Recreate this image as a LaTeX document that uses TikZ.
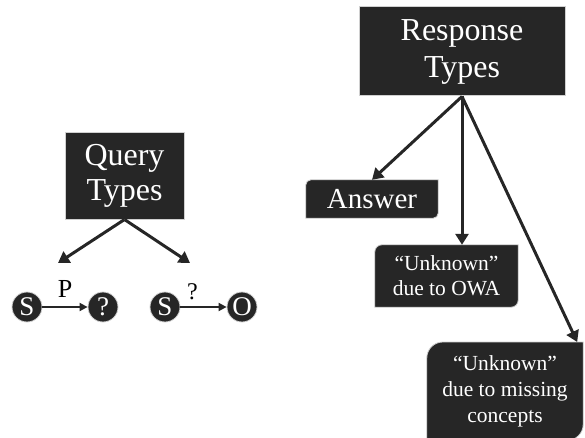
\documentclass[tikz,border=0pt]{standalone}
\usepackage{fontspec}
\setmainfont{Liberation Serif}
\usetikzlibrary{arrows.meta,calc,backgrounds}
\definecolor{boxfill}{HTML}{262626}
\definecolor{boxedge}{HTML}{D0D0D0}

% box with the top-left and bottom-right corners rounded
\newcommand\softbox[2]{%
  \filldraw[cornerbox]
    ($(#1.north west)+(0,#2)$)
      .. controls ($(#1.north west)+(0,0.45*#2)$) and ($(#1.north west)+(0.45*#2,0)$) ..
    ($(#1.north west)+(#2,0)$)
    -- (#1.north east) -- ($(#1.south east)+(0,-#2)$)
      .. controls ($(#1.south east)+(0,-0.45*#2)$) and ($(#1.south east)+(-0.45*#2,0)$) ..
    ($(#1.south east)+(-#2,0)$)
    -- (#1.south west) -- cycle;}

\begin{document}
\begin{tikzpicture}[x=1pt,y=-1pt,
  txt/.style={text=white, align=center, inner sep=0pt},
  sqbox/.style={txt, fill=boxfill, draw=boxedge, line width=1pt},
  cornerbox/.style={fill=boxfill, draw=boxedge, line width=0.8pt},
  dot/.style={circle, fill=boxfill, draw=boxedge, line width=0.8pt,
    minimum size=30pt, inner sep=0pt, text=white,
    font=\fontsize{27}{27}\selectfont},
  tree/.style={draw=boxfill, line width=3pt,
    -{Triangle[length=11pt,width=13pt]}},
  link/.style={draw=boxfill, line width=1.8pt,
    -{Triangle[length=8pt,width=8pt]}},
  edgelabel/.style={text=black, inner sep=1pt}
]
\useasboundingbox (0,0) rectangle (585,438);

% ---- query types ----
\node[sqbox, minimum width=119pt, minimum height=86pt,
  font=\fontsize{32}{35}\selectfont] (query) at (124.5,176) {Query\\Types};
\coordinate (qL) at (58,263);
\coordinate (qR) at (190,263);
\draw[tree] (query.south) -- (qL);
\draw[tree] (query.south) -- (qR);

\node[dot] (s1) at (27,307) {S};
\node[dot] (q1) at (103,307) {?};
\node[dot] (s2) at (165,307) {S};
\node[dot] (o2) at (242,307) {O};
\draw[link] (s1) -- node[above=8pt, edgelabel, font=\fontsize{26}{26}\selectfont] {P} (q1);
\draw[link] (s2) -- node[pos=0.26, above=5pt, edgelabel, font=\fontsize{24}{24}\selectfont] {?} (o2);

% ---- response types ----
\node[sqbox, minimum width=206pt, minimum height=89pt,
  font=\fontsize{32}{37}\selectfont] (resp) at (462,51.5) {Response\\Types};

\node[txt, minimum width=132pt, minimum height=38pt,
  font=\fontsize{29}{29}\selectfont] (ans) at (372,199) {Answer};
\node[txt, minimum width=143pt, minimum height=62pt,
  font=\fontsize{21.5}{25}\selectfont] (owa) at (446.5,276) {“Unknown”\\due to OWA};
\node[txt, minimum width=156pt, minimum height=98pt, anchor=north,
  font=\fontsize{21.5}{26}\selectfont] (miss) at (505,342) {“Unknown”\\due to missing\\concepts};

\begin{scope}[on background layer]
  \softbox{ans}{5}
  \softbox{owa}{7}
  \softbox{miss}{16}
\end{scope}

\draw[tree] (resp.south) -- (ans.north);
\draw[tree] (resp.south) -- (resp.south |- owa.north);
\draw[tree] (resp.south) -- ($(miss.north east)+(-6,0)$);
\end{tikzpicture}
\end{document}
